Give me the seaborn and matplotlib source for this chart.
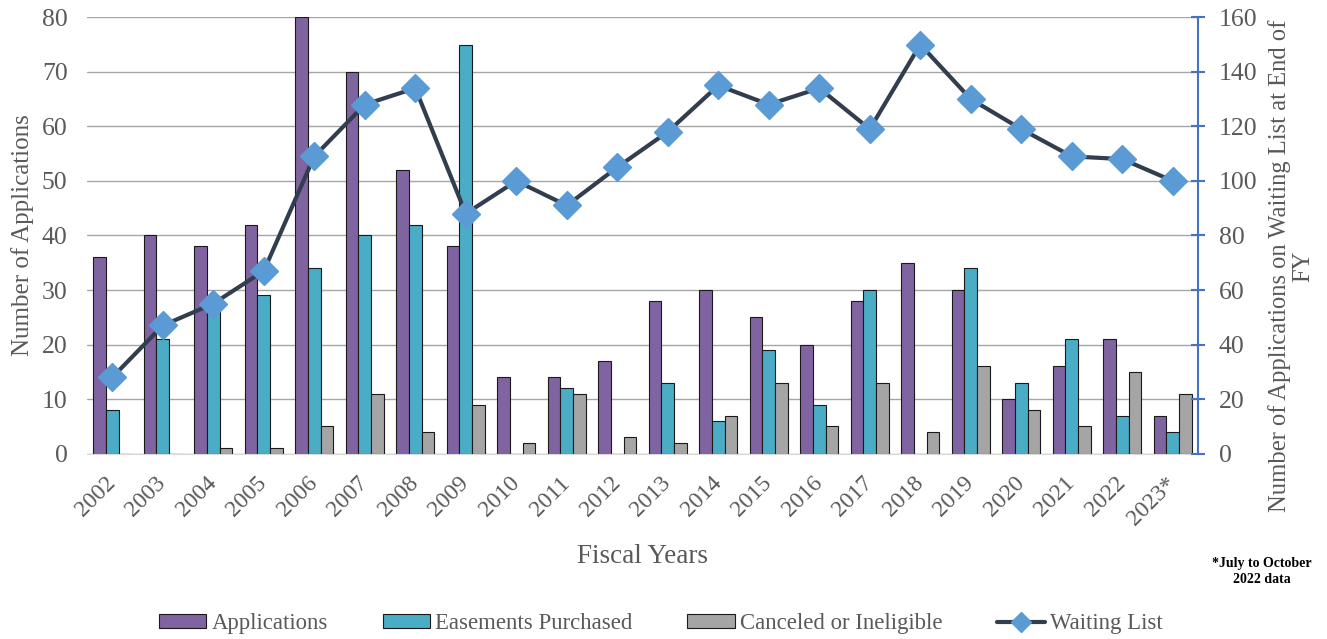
import pandas as pd
import seaborn as sns
import matplotlib.pyplot as plt
import numpy as np
from matplotlib.lines import Line2D
from matplotlib.patches import Patch

years = ['2002', '2003', '2004', '2005', '2006', '2007', '2008', '2009', '2010', '2011', '2012',
         '2013', '2014', '2015', '2016', '2017', '2018', '2019', '2020', '2021', '2022', '2023*']
applications = [36, 40, 38, 42, 80, 70, 52, 38, 14, 14, 17, 28, 30, 25, 20, 28, 35, 30, 10, 16, 21, 7]
easements = [8, 21, 28, 29, 34, 40, 42, 75, 0, 12, 0, 13, 6, 19, 9, 30, 0, 34, 13, 21, 7, 4]
canceled = [0, 0, 1, 1, 5, 11, 4, 9, 2, 11, 3, 2, 7, 13, 5, 13, 4, 16, 8, 5, 15, 11]
waiting = [28, 47, 55, 67, 109, 128, 134, 88, 100, 91, 105, 118, 135, 128, 134, 119, 150, 130, 119, 109, 108, 100]

series = ['Applications', 'Easements Purchased', 'Canceled or Ineligible']
colors = ['#8064A2', '#4BACC6', '#A5A5A5']

df = pd.DataFrame({'year': years * 3,
                   'value': applications + easements + canceled,
                   'series': [s for s in series for _ in years]})

sns.set_style('white')
plt.rcParams['font.family'] = ['Liberation Serif', 'DejaVu Serif']
txt = '#595959'

fig, ax = plt.subplots(figsize=(13.27, 6.39), dpi=100)
fig.subplots_adjust(left=0.0656, right=0.9028, top=0.973, bottom=0.29)

sns.barplot(data=df, x='year', y='value', hue='series', palette=colors, width=0.75,
            edgecolor='#1a1a1a', linewidth=0.8, saturation=1, ax=ax, legend=False)
ax.set_ylim(0, 80)
ax.set_yticks(range(0, 81, 10))
ax.grid(axis='y', color='#A6A6A6', linewidth=1)
ax.set_axisbelow(True)
for s in ['left', 'top', 'right']:
    ax.spines[s].set_visible(False)
ax.spines['bottom'].set_color('#D9D9D9')
ax.tick_params(axis='both', length=0, labelsize=18.5, labelcolor=txt)
ax.tick_params(axis='y', pad=14)
ax.tick_params(axis='x', pad=19, labelsize=17)
ax.set_xticks(range(len(years)))
ax.set_xticklabels(years, rotation=45, ha='right', va='center', rotation_mode='anchor')
ax.set_xlabel('Fiscal Years', fontsize=19.5, color=txt, labelpad=11)
ax.set_ylabel('Number of Applications', fontsize=18, color=txt, labelpad=6)

ax2 = ax.twinx()
ax2.plot(np.arange(len(years)), waiting, color='#323E4F', linewidth=3, marker='D',
         markersize=14, markerfacecolor='#5B9BD5', markeredgecolor='#5B9BD5', zorder=5)
ax2.set_ylim(0, 160)
ax2.set_yticks(range(0, 161, 20))
for s in ['left', 'top', 'bottom']:
    ax2.spines[s].set_visible(False)
ax2.spines['right'].set_color('#4472C4')
ax2.spines['right'].set_linewidth(1.5)
ax2.tick_params(axis='y', direction='inout', length=10, width=1.5, color='#4472C4',
                labelsize=18.5, labelcolor=txt, pad=10)
ax2.set_ylabel('Number of Applications on Waiting List at End of\nFY', fontsize=17.7,
               color=txt, multialignment='center', linespacing=1.1)
ax2.yaxis.set_label_coords(1.063, 0.43)
ax.set_xlim(-0.5, len(years) - 0.5)

fig.text(0.951, 0.106, '*July to October\n2022 data', fontsize=10, fontweight='bold',
         ha='center', va='center', color='#000000', linespacing=1.3)

handles = [Patch(facecolor=c, edgecolor='#1a1a1a', linewidth=0.8) for c in colors]
handles.append(Line2D([], [], color='#323E4F', linewidth=3, marker='D', markersize=10,
                      markerfacecolor='#5B9BD5', markeredgecolor='#5B9BD5'))
fig.legend(handles, series + ['Waiting List'], loc='center', bbox_to_anchor=(0.498, 0.024),
           ncol=4, frameon=False, fontsize=16.4, labelcolor=txt, handlelength=2.1,
           handleheight=0.6, columnspacing=2.4, handletextpad=0.22)

fig.savefig('out.png', dpi=100)
